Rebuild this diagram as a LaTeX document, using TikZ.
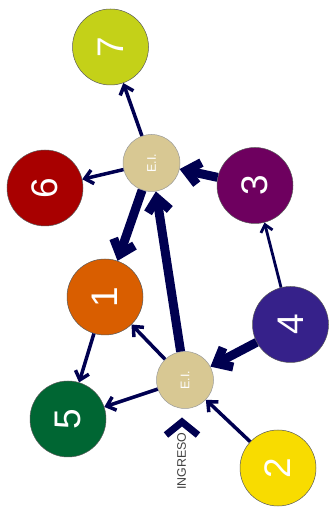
\documentclass[tikz,border=0pt]{standalone}
\usepackage{fontspec}
\setmainfont{Liberation Sans}
\usetikzlibrary{arrows.meta}
\tikzset{every picture/.style={line width=0.75pt}}

\definecolor{flujoazul}{HTML}{000050}
\definecolor{eitan}{HTML}{D8C893}
\definecolor{zona1}{HTML}{D95E00}
\definecolor{zona2}{HTML}{F8DC00}
\definecolor{zona3}{HTML}{6E005F}
\definecolor{zona4}{HTML}{36218A}
\definecolor{zona5}{HTML}{006633}
\definecolor{zona6}{HTML}{A80000}
\definecolor{zona7}{HTML}{C4D118}

\begin{document}
\begin{tikzpicture}[x=1pt, y=1pt,
    zona/.style={circle, draw=black!65, line width=0.5pt, minimum size=76pt, inner sep=0pt,
        text=white, rotate=90, font=\fontsize{37}{37}\selectfont},
    ei/.style={circle, draw=black!40, line width=0.5pt, fill=eitan, minimum size=57pt, inner sep=0pt,
        text=white, rotate=90, font=\fontsize{12.5}{12.5}\selectfont},
    flujo/.style={draw=flujoazul, line width=3.5pt, -{Straight Barb[length=8pt,width=14pt]}},
    flujo fino/.style={draw=flujoazul, line width=2.8pt, -{Straight Barb[length=7pt,width=12pt]}},
    flujo grueso/.style={draw=flujoazul, line width=9pt, -{Straight Barb[length=13pt,width=22pt]}}]
    \useasboundingbox (0,0) rectangle (329,508);

    % zonas
    \foreach \n/\x/\y in {1/105/211, 2/278/40, 3/255/322.5, 4/290.5/183.5, 5/68/89, 6/45/320, 7/110.5/461} {
        \node[zona, fill=zona\n] (z\n) at (\x, \y) {\n};
    }

    % estaciones intermedias
    \node[ei] (eisup) at (151.5, 345) {E.I.};
    \node[ei] (eiinf) at (185, 128) {E.I.};

    % ingreso
    \node[rotate=90, text=black!75, font=\fontsize{12.4}{12.4}\selectfont] (ingreso) at (181.5, 47) {INGRESO};
    \draw[flujoazul, line width=7pt, miter limit=10] (166, 73) -- (182, 86) -- (198, 73);

    % flujos
    \draw[flujo] (eisup) -- (z7);
    \draw[flujo] (eisup) -- (z6);
    \draw[flujo grueso] (z3) -- (eisup);
    \draw[flujo grueso] (eisup) -- (z1);
    \draw[flujo grueso] (eiinf) -- (eisup);
    \draw[flujo fino] (z4) -- (z3);
    \draw[flujo grueso] (z4) -- (eiinf);
    \draw[flujo] (eiinf) -- (z1);
    \draw[flujo] (eiinf) -- (z5);
    \draw[flujo] (z1) -- (z5);
    \draw[flujo] (z2) -- (eiinf);
\end{tikzpicture}
\end{document}
